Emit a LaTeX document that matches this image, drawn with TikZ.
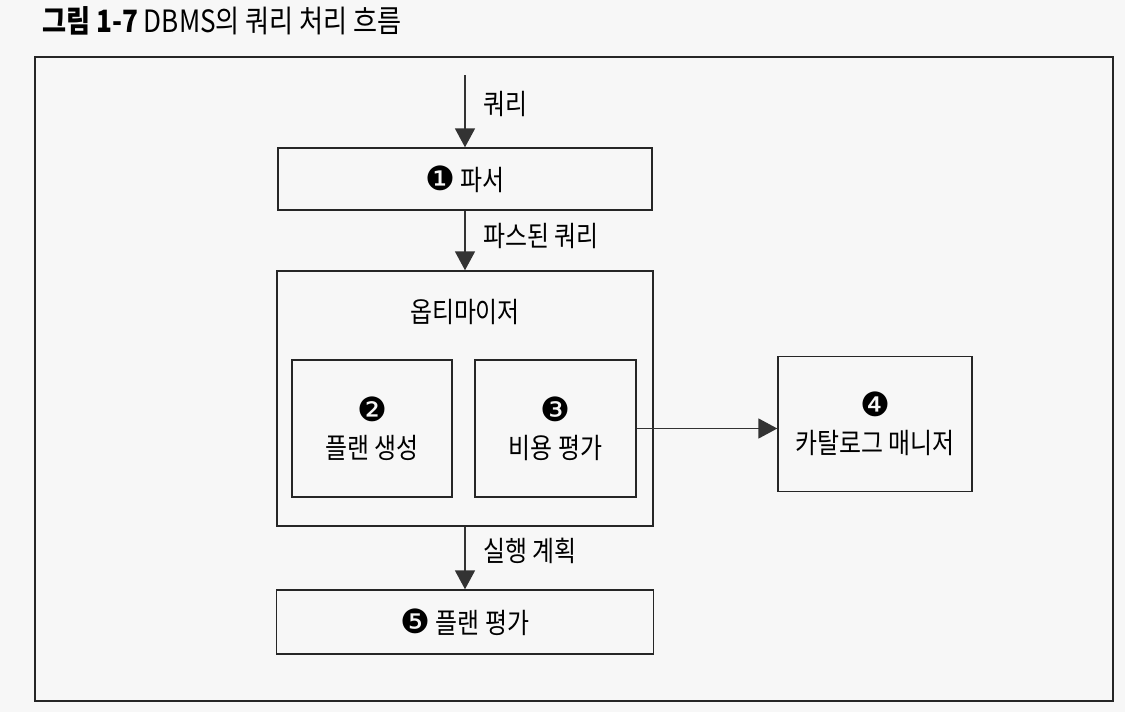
\documentclass[tikz,border=0pt]{standalone}
\usepackage{fontspec}
\setmainfont{Noto Sans CJK KR}[FakeStretch=0.85]
\newfontfamily\numfont{DejaVu Sans}
\newcommand\circnum[1]{{\numfont\fontsize{19}{19}\selectfont #1}}
\usetikzlibrary{arrows.meta}

\begin{document}
\begin{tikzpicture}
[
    x=0.2mm, y=-0.2mm,
    every node/.style={font=\fontsize{16}{20}\selectfont},
    box/.style={draw=black!85, line width=0.8pt, align=center, inner sep=0pt},
    flow/.style={draw=black!80, line width=1pt, -{Triangle[width=4mm,length=3.8mm]}},
    lbl/.style={right=2.3mm}
]
    \fill[black!3] (0,0) rectangle (1125,712);
    \draw[black!85, line width=1.2pt] (35,57) rectangle (1113,701);

    \node[anchor=west, font=\fontsize{17.5}{20}\selectfont] (title) at (36,21)
        {\textbf{그림 1-7} DBMS의 쿼리 처리 흐름};

    \coordinate (qin) at (465,75);
    \node[box, minimum width=7.48cm, minimum height=1.24cm] (parser) at (465,179)
        {\circnum{❶} 파서};
    \node[box, minimum width=7.52cm, minimum height=5.1cm] (optimizer) at (465,398.5) {};
    \node (optlabel) at (465,312) {옵티마이저};
    \node[box, minimum width=3.2cm, minimum height=2.74cm] (plangen) at (372,428.5)
        {\circnum{❷}\\[1pt] 플랜 생성};
    \node[box, minimum width=3.22cm, minimum height=2.74cm] (costest) at (555.5,428.5)
        {\circnum{❸}\\[1pt] 비용 평가};
    \node[box, minimum width=3.88cm, minimum height=2.7cm] (catalog) at (875,424)
        {\circnum{❹}\\[1pt] 카탈로그 매니저};
    \node[box, minimum width=7.54cm, minimum height=1.28cm] (planeval) at (465,622)
        {\circnum{❺} 플랜 평가};

    \draw[flow] (qin) -- node[pos=0.4, lbl] {쿼리} (parser.north);
    \draw[flow] (parser.south) -- node[pos=0.42, lbl] {파스된 쿼리} (optimizer.north);
    \draw[flow] (optimizer.south) -- node[pos=0.38, lbl] {실행 계획} (planeval.north);
    \draw[flow] (costest.east) -- (costest.east -| catalog.west);
\end{tikzpicture}
\end{document}
